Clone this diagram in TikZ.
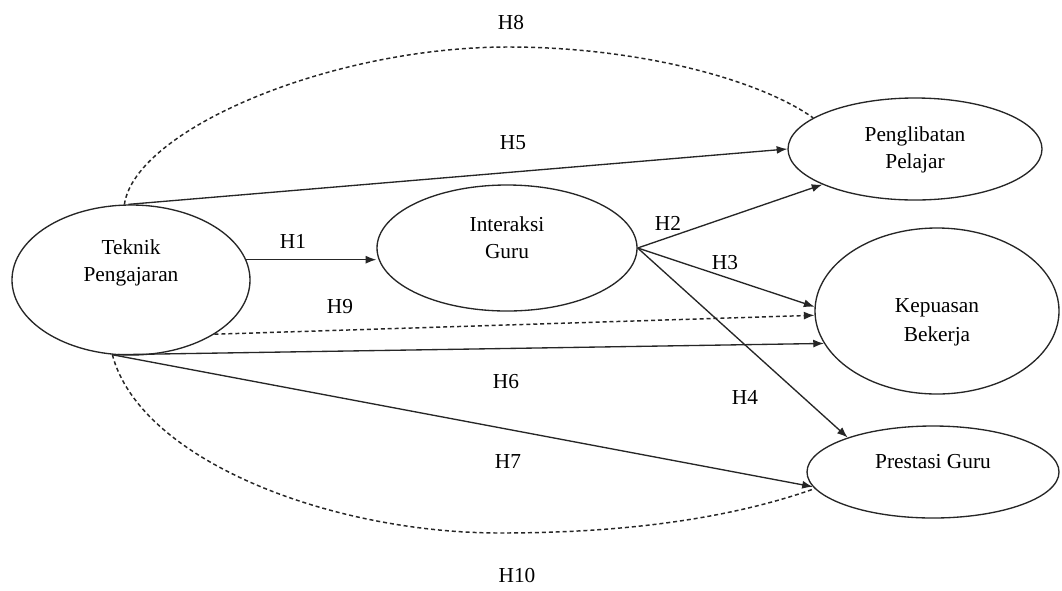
\documentclass[tikz,border=0pt]{standalone}
\usepackage{fontspec}
\setmainfont{Liberation Serif}
\usetikzlibrary{arrows.meta,shapes.geometric}
\begin{document}
\begin{tikzpicture}[x=0.75pt,y=-0.75pt,
  construct/.style={draw=black!85, ellipse, line width=1pt, inner sep=0pt},
  caption/.style={font=\fontsize{16}{20.5}\selectfont, align=center, inner sep=0pt},
  hyp/.style={font=\fontsize{16}{19}\selectfont, inner sep=0pt},
  plainline/.style={draw=black!85, line width=1pt},
  path/.style={plainline, -{Latex[length=8pt,width=6pt]}},
  dashline/.style={plainline, line width=1.1pt, dash pattern=on 3pt off 2.2pt},
  dashpath/.style={path, line width=1.1pt, dash pattern=on 3pt off 2.2pt},
]
\useasboundingbox[fill=white] (0,0) rectangle (1062,590);

% constructs
\node[construct, minimum width=178.5pt, minimum height=112.5pt] (tp) at (131,280) {};
\node[caption] (tpt) at (131,263) {Teknik\\Pengajaran};

\node[construct, minimum width=195pt, minimum height=94.5pt] (ig) at (507,248) {};
\node[caption] (igt) at (507,238) {Interaksi\\Guru};

\node[construct, minimum width=190.5pt, minimum height=76.5pt] (pp) at (915,149) {};
\node[caption] (ppt) at (915,150) {Penglibatan\\Pelajar};

\node[construct, minimum width=183pt, minimum height=124.5pt] (kb) at (937,311) {};
\node[caption, font=\fontsize{16}{22}\selectfont] (kbt) at (937,322) {Kepuasan\\Bekerja};

\node[construct, minimum width=189pt, minimum height=69pt] (pg) at (933,472) {};
\node[caption] (pgt) at (933,462) {Prestasi Guru};

% helper points on the curved paths
\coordinate (h8top) at (508,47);
\coordinate (h10low) at (500,533);

% direct paths
\draw[path] (tp.10) -- (tp.10 -| ig.west);
\draw[path] (tp.92) -- (pp.west);
\draw[path] (ig.east) -- (pp.201);
\draw[path] (ig.east) -- (kb.178);
\draw[path] (ig.east) -- (pg.158);
\draw[dashpath] (tp.327) -- (kb.182);
\draw[path] (tp.256) -- (kb.196);
\draw[path] (tp.256) -- (pg.187);

% curved indirect paths
\draw[dashline] (tp.95) .. controls (135,130) and (330,47) .. (h8top)
  .. controls (640,47) and (760,80) .. (pp.163);
\draw[dashline] (tp.256) .. controls (140,460) and (330,533) .. (h10low)
  .. controls (640,533) and (740,515) .. (pg.188);

% hypothesis labels
\node[hyp] (h1) at (293,241) {H1};
\node[hyp] (h2) at (668,223) {H2};
\node[hyp] (h3) at (725,263) {H3};
\node[hyp] (h4) at (745,397) {H4};
\node[hyp] (h5) at (513,143) {H5};
\node[hyp] (h6) at (506,382) {H6};
\node[hyp] (h7) at (508,462) {H7};
\node[hyp] (h8) at (511,23) {H8};
\node[hyp] (h9) at (340,307) {H9};
\node[hyp] (h10) at (517,575) {H10};
\end{tikzpicture}
\end{document}
